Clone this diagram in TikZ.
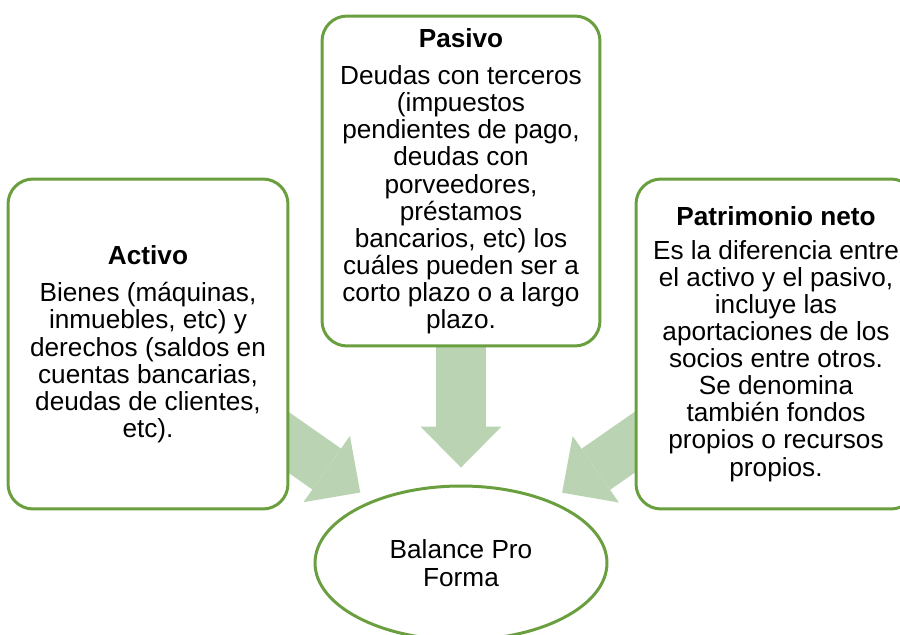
\documentclass[tikz,border=0pt]{standalone}
\usepackage{fontspec}
\setmainfont{Liberation Sans}
\usetikzlibrary{shapes.geometric,arrows.meta,backgrounds}

\definecolor{boxgreen}{HTML}{6A9F40}
\definecolor{arrowgreen}{HTML}{BAD4B3}

\tikzset{
	cajon/.style={draw=boxgreen, line width=1.7pt, fill=white, rounded corners=0.5cm,
		minimum width=5.6cm, minimum height=6.6cm, align=center,
		font=\fontsize{14.9}{15.4}\selectfont},
	centro/.style={ellipse, draw=boxgreen, line width=1.7pt, fill=white, inner sep=0pt,
		minimum width=5.84cm, minimum height=3.08cm, align=center,
		font=\fontsize{14.9}{16}\selectfont},
	flecha/.style={arrowgreen, line width=1cm,
		-{Triangle[width=1.62cm,length=0.82cm,line width=0pt]}}
}

\begin{document}
\begin{tikzpicture}[x=0.02cm,y=-0.02cm]
		\useasboundingbox (0,0) rectangle (900,635);
		\clip (0,0) rectangle (900,635);
		\node[cajon] (activo) at (148,344) {{\bfseries Activo}\\[6pt]Bienes (máquinas,\\inmuebles, etc) y\\derechos (saldos en\\cuentas bancarias,\\deudas de clientes,\\etc).};
		\node[cajon, minimum width=5.56cm] (pasivo) at (461,181) {{\bfseries Pasivo}\\[6pt]Deudas con terceros\\(impuestos\\pendientes de pago,\\deudas con\\porveedores,\\préstamos\\bancarios, etc) los\\cuáles pueden ser a\\corto plazo o a largo\\plazo.};
		\node[cajon] (patrimonio) at (776,344) {{\bfseries Patrimonio neto}\\[4pt]Es la diferencia entre\\el activo y el pasivo,\\incluye las\\aportaciones de los\\socios entre otros.\\Se denomina\\también fondos\\propios o recursos\\propios.};
		\node[centro] (balance) at (461,563) {Balance Pro\\Forma};
		\begin{scope}[on background layer]
			\draw[flecha, shorten >=0.28cm] (activo.center) -- (balance);
			\draw[flecha, shorten >=0.34cm] (pasivo.center) -- (balance);
			\draw[flecha, shorten >=0.28cm] (patrimonio.center) -- (balance);
		\end{scope}
	\end{tikzpicture}
\end{document}
